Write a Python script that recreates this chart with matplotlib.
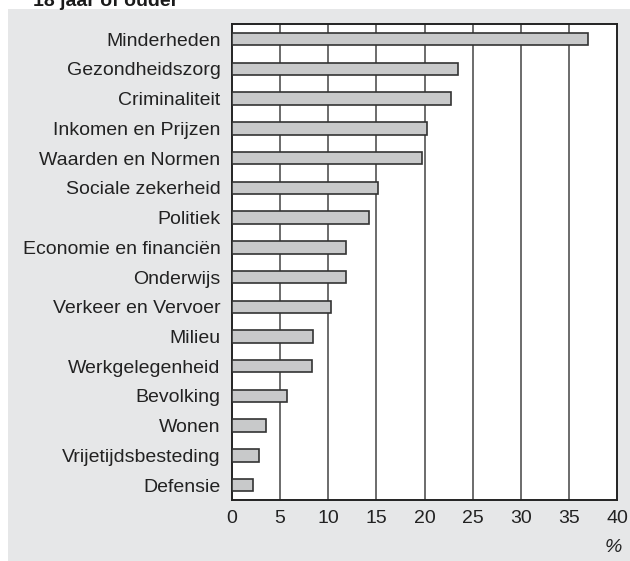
import matplotlib
matplotlib.use("Agg")
import matplotlib.pyplot as plt
from matplotlib.patches import Rectangle

categories = ["Minderheden", "Gezondheidszorg", "Criminaliteit", "Inkomen en Prijzen",
              "Waarden en Normen", "Sociale zekerheid", "Politiek",
              "Economie en financiën", "Onderwijs", "Verkeer en Vervoer", "Milieu",
              "Werkgelegenheid", "Bevolking", "Wonen", "Vrijetijdsbesteding", "Defensie"]
values = [37.0, 23.5, 22.7, 20.3, 19.7, 15.2, 14.2, 11.9, 11.9, 10.3, 8.4, 8.3, 5.7, 3.6, 2.8, 2.2]
xticks = [0, 5, 10, 15, 20, 25, 30, 35, 40]

plt.rcParams['font.family'] = ['Liberation Sans', 'DejaVu Sans']

W, H = 630, 561
fig = plt.figure(figsize=(W / 100, H / 100), dpi=100)
fig.patch.set_facecolor('white')

# grey panel
fig.patches.append(Rectangle((8 / W, 0), 1 - 8 / W, 1 - 9 / H, transform=fig.transFigure,
                             facecolor='#e6e7e8', edgecolor='none', zorder=-10))

# partially cut title (as in the reference)
fig.text(33 / W, 1 - 5.5 / H, "18 jaar of ouder", fontsize=14, fontweight='bold',
         ha='left', va='baseline', color='#1a1a1a')

ax = fig.add_axes([231.7 / W, 1 - 500 / H, (617.3 - 231.7) / W, (500 - 24.3) / H])
ax.set_zorder(5)
ax.set_facecolor('white')

y = list(range(len(categories)))
ax.barh(y, values, height=0.42, color='#c8c9ca', edgecolor='#333333', linewidth=1.2, zorder=3)

ax.set_xlim(0, 40)
ax.set_ylim(len(categories) - 0.5, -0.5)
ax.set_xticks(xticks)
ax.set_xticklabels([str(t) for t in xticks], fontsize=14, color='#222222')
ax.set_yticks(y)
ax.set_yticklabels(categories, fontsize=14, color='#222222')
ax.tick_params(axis='both', length=0)
ax.tick_params(axis='y', pad=8)
ax.tick_params(axis='x', pad=7)

for t in xticks[1:-1]:
    ax.axvline(t, color='#444444', linewidth=1.1, zorder=1)

for s in ax.spines.values():
    s.set_color('#222222')
    s.set_linewidth(1.4)

fig.text(613 / W, 1 - 548 / H, "%", fontsize=14, style='italic', ha='center', va='center',
         color='#222222')

fig.savefig("out.png", dpi=100)
